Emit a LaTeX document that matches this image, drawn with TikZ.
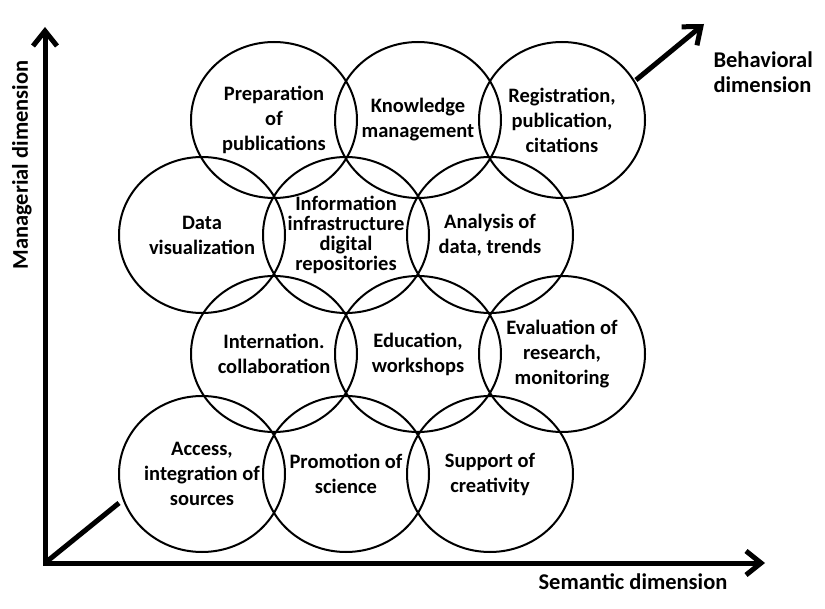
\documentclass[tikz,border=0pt]{standalone}
\usepackage{fontspec}
\setmainfont{Carlito}
\usetikzlibrary{arrows.meta,shapes.geometric}

\tikzset{
  bubble/.style={ellipse,draw,line width=2pt,minimum width=166pt,minimum height=156pt,
    inner sep=0pt,align=center,font=\bfseries\fontsize{20.5}{25}\selectfont},
  axis/.style={line width=5pt,line cap=rect,-{Straight Barb[length=15pt,width=24pt]}},
  dimlabel/.style={font=\bfseries\fontsize{22.5}{25}\selectfont}
}

\begin{document}
\begin{tikzpicture}[x=1pt,y=-1pt]
  \useasboundingbox (0,0) rectangle (825,609);
  % axes
  \coordinate (origin) at (45,563);
  \coordinate (ytip) at (45,27);
  \coordinate (xtip) at (765,563);
  \coordinate (bstart) at (119,503);
  \coordinate (bresume) at (636,80);
  \coordinate (btip) at (704,24);
  \draw[axis] (origin) -- (ytip);
  \draw[axis] (origin) -- (xtip);
  \draw[line width=5pt] (origin) -- (bstart);
  \draw[axis,line cap=butt] (bresume) -- (btip);
  \node[dimlabel,rotate=90] (managerial) at (22,165) {Managerial dimension};
  \node[dimlabel] (semantic) at (633,582) {Semantic dimension};
  \node[dimlabel,anchor=west,align=left] (behavioral) at (710,72) {Behavioral\\dimension};
  % first row
  \node[bubble] (prep) at (274,120) {Preparation\\of\\publications};
  \node[bubble] (know) at (418,120) {Knowledge\\management};
  \node[bubble] (regis) at (562,120) {Registration,\\publication,\\citations};
  % second row
  \node[bubble] (dataviz) at (202,235) {Data\\visualization};
  \node[bubble,font=\bfseries\fontsize{20.5}{20}\selectfont] (infra) at (346,235)
    {Information\\infrastructure\\digital\\repositories};
  \node[bubble] (analysis) at (490,235) {Analysis of\\data, trends};
  % third row
  \node[bubble] (intern) at (274,354) {Internation.\\collaboration};
  \node[bubble] (educ) at (418,354) {Education,\\workshops};
  \node[bubble] (evalu) at (562,354) {Evaluation of\\research,\\monitoring};
  % fourth row
  \node[bubble] (access) at (202,474) {Access,\\integration of\\sources};
  \node[bubble] (promo) at (346,474) {Promotion of\\science};
  \node[bubble] (support) at (490,474) {Support of\\creativity};
\end{tikzpicture}
\end{document}
